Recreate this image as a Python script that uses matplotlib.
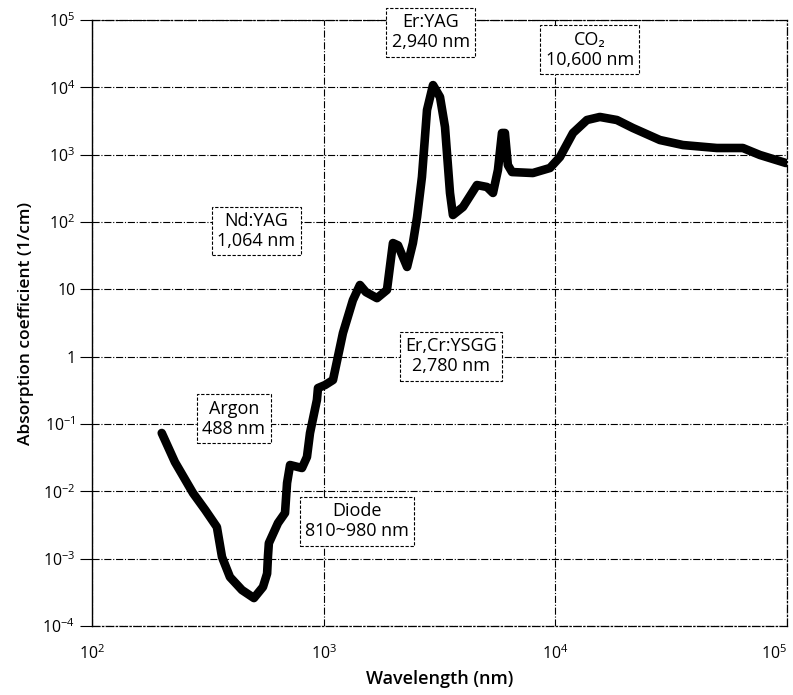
import matplotlib
matplotlib.use("Agg")
import matplotlib.pyplot as plt
from matplotlib.ticker import FixedLocator, FixedFormatter, NullLocator

plt.rcParams['font.family'] = ['Open Sans', 'DejaVu Sans']
plt.rcParams['mathtext.fontset'] = 'custom'
plt.rcParams['mathtext.rm'] = 'Open Sans'
plt.rcParams['mathtext.it'] = 'Open Sans'

# Water absorption spectrum (wavelength nm, absorption coefficient 1/cm)
wavelength = [200, 228, 273, 308, 346, 364, 394, 444, 500, 547, 570, 575, 580,
              635, 681, 695, 716, 806, 847, 873, 935, 945, 1014, 1097, 1211,
              1337, 1434, 1522, 1699, 1876, 1991, 2094, 2291, 2428, 2531, 2656,
              2793, 2965, 3178, 3340, 3510, 3614, 3993, 4589, 5069, 5381, 5653,
              5884, 6058, 6238, 6500, 8000, 9480, 10470, 11920, 13690, 15570,
              18440, 21610, 28270, 35540, 49800, 64500, 76400, 98900]
absorption = [0.0735, 0.0272, 0.0094, 0.0053, 0.00295, 0.00106, 0.000533,
              0.000342, 0.00026, 0.00038, 0.0006, 0.0011, 0.0017,
              0.00338, 0.00477, 0.0133, 0.0246, 0.0222, 0.0324, 0.0735, 0.227,
              0.342, 0.379, 0.45, 2.24, 6.9, 11.6, 9.1, 7.4, 9.8, 48.7, 45,
              21.5, 48.7, 119, 466, 4600, 10800, 7180, 2580, 270, 127, 167,
              354, 331, 270, 592, 2100, 2100, 702, 552, 534, 634, 923, 2100,
              3270, 3630, 3270, 2490, 1650, 1390, 1256, 1256, 989, 752]

# Laser annotations: label text and anchor (wavelength, absorption)
laser_labels = ["Er:YAG\n2,940 nm", "CO\u2082\n10,600 nm", "Nd:YAG\n1,064 nm",
                "Er,Cr:YSGG\n2,780 nm", "Argon\n488 nm", "Diode\n810~980 nm"]
label_x = [2904, 14090, 511, 3540, 410, 1393]
label_y = [6.6e4, 3.6e4, 73.5, 1.02, 0.119, 0.00362]

x_ticks = [1e2, 1e3, 1e4, 1e5]
x_tick_labels = ["10$^2$", "10$^3$", "10$^4$", "10$^5$"]
y_ticks = [1e-4, 1e-3, 1e-2, 1e-1, 1, 10, 1e2, 1e3, 1e4, 1e5]
y_tick_labels = ["10$^{-4}$", "10$^{-3}$", "10$^{-2}$", "10$^{-1}$", "1", "10",
                 "10$^2$", "10$^3$", "10$^4$", "10$^5$"]

fig = plt.figure(figsize=(7.93, 6.95), dpi=100)
ax = fig.add_axes([92/793, 1 - 626/695, (787 - 92)/793, (626 - 20)/695])
ax.set_xscale('log')
ax.set_yscale('log')
ax.set_xlim(1e2, 1e5)
ax.set_ylim(1e-4, 1e5)

ax.plot(wavelength, absorption, color='black', lw=6.2,
        solid_capstyle='round', solid_joinstyle='round', zorder=3)

ax.xaxis.set_major_locator(FixedLocator(x_ticks))
ax.xaxis.set_major_formatter(FixedFormatter(x_tick_labels))
ax.yaxis.set_major_locator(FixedLocator(y_ticks))
ax.yaxis.set_major_formatter(FixedFormatter(y_tick_labels))
ax.xaxis.set_minor_locator(NullLocator())
ax.yaxis.set_minor_locator(NullLocator())

ax.tick_params(axis='y', direction='out', length=9, width=0.8, pad=3, labelsize=11.5)
ax.tick_params(axis='x', length=0, pad=13, labelsize=11.5)
xl = ax.get_xticklabels()
xl[-1].set_horizontalalignment('right')

ax.grid(True, which='major', color='black', linestyle='-.', linewidth=0.8, zorder=1)

for side in ['top', 'right', 'bottom']:
    ax.spines[side].set_linestyle((0, (6, 2, 1, 2)))
    ax.spines[side].set_linewidth(0.9)
ax.spines['left'].set_linewidth(1.0)

ax.set_xlabel("Wavelength (nm)", fontsize=13, fontweight='semibold', labelpad=5)
ax.set_ylabel("Absorption coefficient (1/cm)", fontsize=12.5, fontweight='semibold',
              labelpad=6)

for txt, lx, ly in zip(laser_labels, label_x, label_y):
    ax.text(lx, ly, txt, ha='center', va='center', fontsize=13, linespacing=1.15,
            zorder=4, clip_on=False,
            bbox=dict(boxstyle='square,pad=0.3', facecolor='white',
                      edgecolor='black', linestyle=(0, (3, 1.5)), linewidth=0.8))

fig.savefig("out.png", dpi=100)
